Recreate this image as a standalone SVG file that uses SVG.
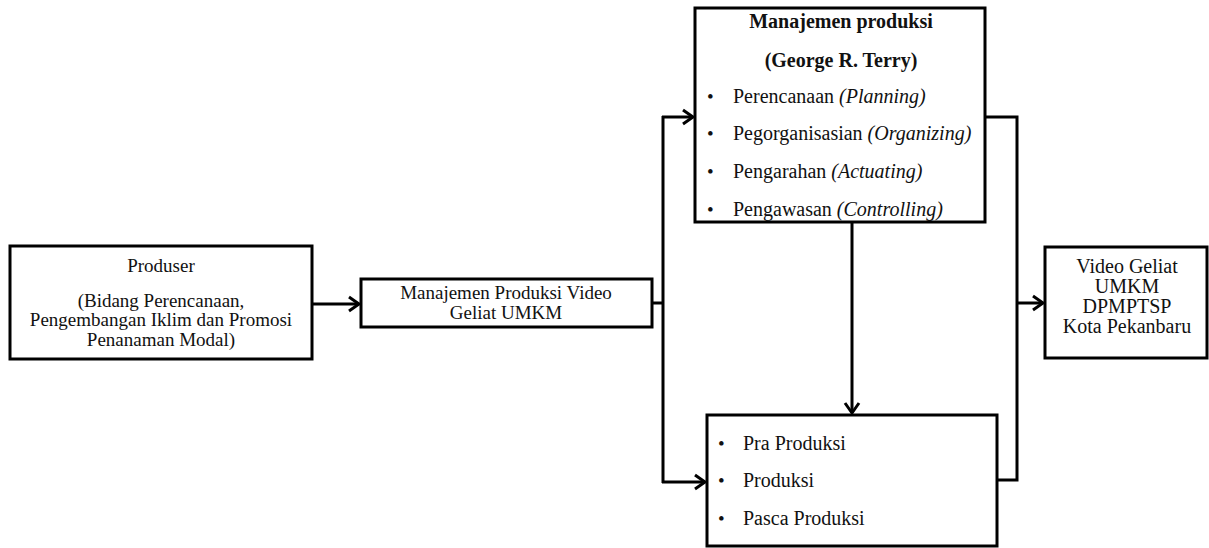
<svg xmlns="http://www.w3.org/2000/svg" width="1209" height="548" viewBox="0 0 1209 548">
<style>
.box{fill:#fff;stroke:#000;stroke-width:3}
.t{font-family:"Liberation Serif","Times New Roman",serif;font-size:19px;fill:#111}
.l{font-size:20px}
.c{text-anchor:middle}
.b{font-weight:bold}
.i{font-style:italic}
.ln{fill:none;stroke:#000;stroke-width:3;stroke-linejoin:miter}
</style>
<defs>
<marker id="arr" markerUnits="userSpaceOnUse" markerWidth="16" markerHeight="18" refX="12" refY="9" orient="auto">
<path d="M2,2 L12,9 L2,16" fill="none" stroke="#000" stroke-width="3"/>
</marker>
</defs>
<g id="connectors">
<line class="ln" x1="312" y1="304" x2="359" y2="304" marker-end="url(#arr)"/>
<line class="ln" x1="652" y1="303" x2="663" y2="303"/>
<line class="ln" x1="663" y1="116" x2="663" y2="483"/>
<line class="ln" x1="662" y1="117" x2="693" y2="117" marker-end="url(#arr)"/>
<line class="ln" x1="662" y1="482" x2="705" y2="482" marker-end="url(#arr)"/>
<line class="ln" x1="852" y1="222" x2="852" y2="413" marker-end="url(#arr)"/>
<polyline class="ln" points="985,117 1017,117 1017,480 997,480"/>
<line class="ln" x1="1017" y1="303" x2="1043" y2="303" marker-end="url(#arr)"/>
</g>
<g id="produser">
<rect class="box" x="10" y="246" width="302" height="113"/>
<text class="t c" x="161" y="272">Produser</text>
<text class="t c" x="161" y="307">(Bidang Perencanaan,</text>
<text class="t c" x="161" y="326">Pengembangan Iklim  dan Promosi</text>
<text class="t c" x="161" y="346">Penanaman Modal)</text>
</g>
<g id="manajemen-video">
<rect class="box" x="361" y="279" width="291" height="48"/>
<text class="t c" x="506" y="299">Manajemen Produksi Video</text>
<text class="t c" x="506" y="319">Geliat UMKM</text>
</g>
<g id="manajemen-produksi">
<rect class="box" x="695" y="8" width="290" height="214"/>
<text class="t l c b" x="841" y="28">Manajemen produksi</text>
<text class="t l c b" x="841" y="67">(George R. Terry)</text>
<text class="t" x="707" y="103">•</text><text class="t l" x="733" y="103">Perencanaan <tspan class="i">(Planning)</tspan></text>
<text class="t" x="707" y="140">•</text><text class="t l" x="733" y="140">Pegorganisasian <tspan class="i">(Organizing)</tspan></text>
<text class="t" x="707" y="178">•</text><text class="t l" x="733" y="178">Pengarahan <tspan class="i">(Actuating)</tspan></text>
<text class="t" x="707" y="216">•</text><text class="t l" x="733" y="216">Pengawasan <tspan class="i">(Controlling)</tspan></text>
</g>
<g id="tahapan">
<rect class="box" x="707" y="415" width="290" height="131"/>
<text class="t" x="718" y="450">•</text><text class="t l" x="743" y="450">Pra Produksi</text>
<text class="t" x="718" y="487">•</text><text class="t l" x="743" y="487">Produksi</text>
<text class="t" x="718" y="525">•</text><text class="t l" x="743" y="525">Pasca Produksi</text>
</g>
<g id="output">
<rect class="box" x="1045" y="247" width="162" height="111"/>
<text class="t l c" x="1127" y="273">Video  Geliat</text>
<text class="t l c" x="1127" y="293">UMKM</text>
<text class="t l c" x="1127" y="313">DPMPTSP</text>
<text class="t l c" x="1127" y="333">Kota Pekanbaru</text>
</g>
</svg>
